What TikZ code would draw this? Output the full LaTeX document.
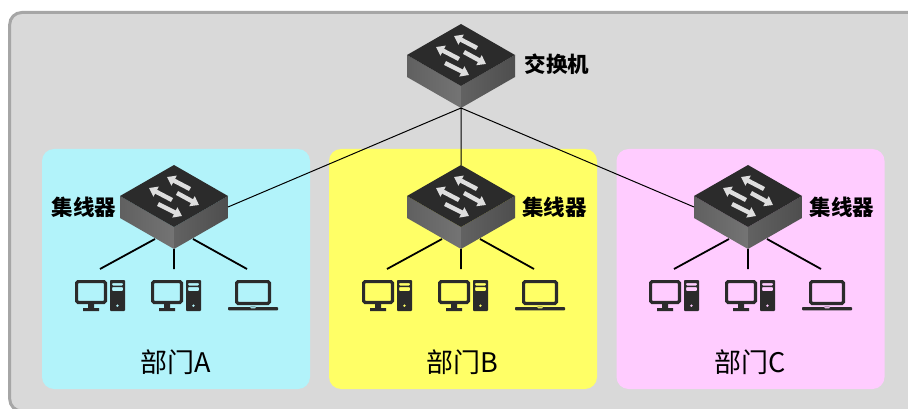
\documentclass[tikz,border=0pt]{standalone}
\usepackage{fontspec}
\newfontfamily\cjk{Noto Sans CJK SC}
\usetikzlibrary{arrows.meta,calc}
\definecolor{faceL}{HTML}{747474}
\definecolor{faceLd}{HTML}{606060}
\definecolor{faceR}{HTML}{626262}
\definecolor{faceRd}{HTML}{4E4E4E}
\definecolor{icon}{HTML}{2B2B2B}
\definecolor{deptcyan}{HTML}{B2F3FA}
\definecolor{deptyellow}{HTML}{FFFF66}
\definecolor{deptpink}{HTML}{FFCCFF}
\definecolor{outerfill}{HTML}{D9D9D9}
\definecolor{outerline}{HTML}{A6A6A6}
\tikzset{
panel/.style={rounded corners=12,minimum width=268,minimum height=240,inner sep=0,outer sep=0},
sw/.style={minimum width=108,minimum height=84,inner sep=0,outer sep=0,path picture={
  \begin{scope}[shift={(path picture bounding box.center)}]
  \shade[left color=faceLd,right color=faceL](-54,-11)--(0,20)--(0,42)--(-54,11)--cycle;
  \shade[left color=faceR,right color=faceRd](54,-11)--(0,20)--(0,42)--(54,11)--cycle;
  \fill[icon](0,-42)--(54,-11)--(0,20)--(-54,-11)--cycle;
  \draw[swarrow](16,-18)--(-7,-30);
  \draw[swarrow](-2,-7)--(-25,-19);
  \draw[swarrow](3,-14)--(25,-2);
  \draw[swarrow](-16,-3)--(8,9);
  \end{scope}}},
swarrow/.style={draw=white!87!black,line width=4.4,-{Triangle[length=8,width=11]}},
pc/.style={minimum width=50,minimum height=31,inner sep=0,outer sep=0,path picture={
  \begin{scope}[shift={(path picture bounding box.center)}]
  \draw[icon,line width=3.2,rounded corners=1.5](-23.4,-13.9)rectangle(5.4,7);
  \fill[icon](-12,8)rectangle(-6,12.5)(-17,12.5)rectangle(-1,15.5);
  \fill[icon,even odd rule,rounded corners=0.8](10,-15.5)rectangle(25,15.5)
    (12,-12.5)rectangle(23,-10)(12,-8.5)rectangle(23,-4.5)(17.4,10.2)circle(1.6);
  \end{scope}}},
laptop/.style={minimum width=50,minimum height=31,inner sep=0,outer sep=0,path picture={
  \begin{scope}[shift={(path picture bounding box.center)}]
  \draw[icon,line width=3.2,rounded corners=1.5](-16.4,-13.9)rectangle(16.4,8);
  \fill[icon,even odd rule,rounded corners=0.8](-25,11.5)rectangle(25,14.8)(-3,11)rectangle(3,12.8);
  \end{scope}}},
swlabel/.style={inner sep=0,font=\cjk\bfseries\fontsize{21.5}{25}\selectfont},
deptlabel/.style={inner sep=0,font=\cjk\fontsize{27}{32}\selectfont},
uplink/.style={line width=1,black},
stub/.style={line width=1.8,black}
}
\begin{document}
\begin{tikzpicture}[x=1pt,y=-1pt]
\useasboundingbox(0,0)rectangle(908,409);
\clip(0,0)rectangle(908,409);
\draw[draw=outerline,fill=outerfill,line width=3,rounded corners=12](9.7,12.5)rectangle(930,411);
\node[panel,fill=deptcyan](deptA)at(176,269){};
\node[panel,fill=deptyellow](deptB)at(463,269){};
\node[panel,fill=deptpink](deptC)at(750.5,269){};
\node[sw](swTop)at(461,66){};
\node[sw](hubA)at(174,207){};
\node[sw](hubB)at(461,207){};
\node[sw](hubC)at(748,207){};
\node[swlabel](labTop)at(557,64){交换机};
\node[swlabel](labA)at(84,207){集线器};
\node[swlabel](labB)at(554.5,207){集线器};
\node[swlabel](labC)at(842,207){集线器};
\draw[uplink](swTop.south)--(hubA.east)(swTop.south)--(hubB.north)(swTop.south)--(hubC.west);
\node[pc](pcA1)at(100,295.5){};
\node[pc](pcA2)at(176,295.5){};
\node[laptop](lapA)at(253,295.5){};
\node[pc](pcB1)at(387,295.5){};
\node[pc](pcB2)at(463,295.5){};
\node[laptop](lapB)at(540,295.5){};
\node[pc](pcC1)at(674,295.5){};
\node[pc](pcC2)at(750,295.5){};
\node[laptop](lapC)at(827,295.5){};
% stubs stop short of the icons
\draw[stub]($(hubA.south)+(-19,-10)$)--($(pcA1.north)+(0,-11)$)(hubA.south)--($(pcA2.north)+(-2,-11)$)($(hubA.south)+(19,-10)$)--($(lapA.north)+(-6,-11)$);
\draw[stub]($(hubB.south)+(-19,-10)$)--($(pcB1.north)+(0,-11)$)(hubB.south)--($(pcB2.north)+(-2,-11)$)($(hubB.south)+(19,-10)$)--($(lapB.north)+(-6,-11)$);
\draw[stub]($(hubC.south)+(-19,-10)$)--($(pcC1.north)+(0,-11)$)(hubC.south)--($(pcC2.north)+(-2,-11)$)($(hubC.south)+(19,-10)$)--($(lapC.north)+(-6,-11)$);
\node[deptlabel](nameA)at(175.5,362){部门A};
\node[deptlabel](nameB)at(462,362){部门B};
\node[deptlabel](nameC)at(750,362){部门C};
\end{tikzpicture}
\end{document}
